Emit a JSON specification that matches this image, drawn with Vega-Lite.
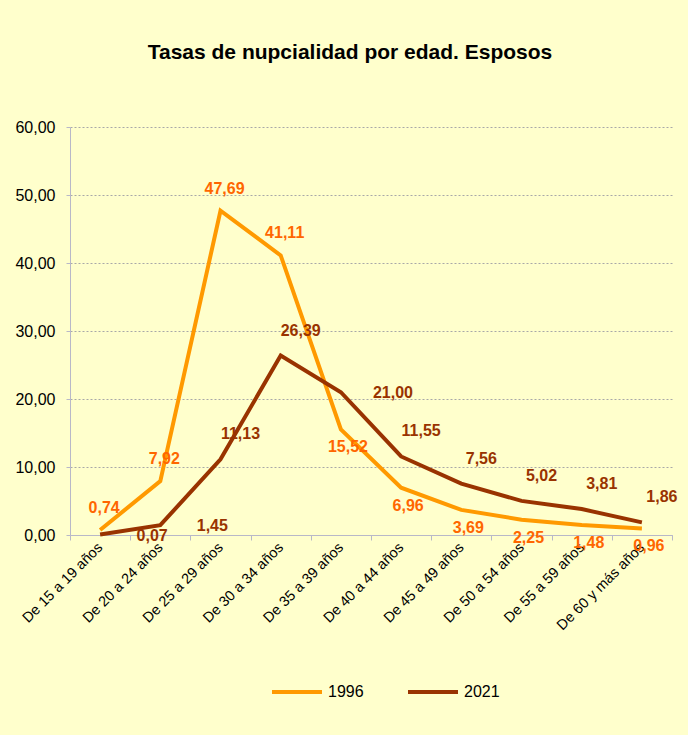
{
  "$schema": "https://vega.github.io/schema/vega-lite/v6.json",
  "autosize": {"type": "none"},
  "width": 602,
  "height": 408,
  "padding": {"left": 70, "top": 127, "right": 16, "bottom": 200},
  "background": "#FFFFCC",
  "title": {
    "text": "Tasas de nupcialidad por edad. Esposos",
    "font": "Liberation Sans",
    "fontSize": 21,
    "fontWeight": "bold",
    "color": "#000000",
    "anchor": "middle",
    "dx": -21,
    "offset": 56
  },
  "data": {
    "values": [
      {"edad": "De 15 a 19 años", "anio": "1996", "tasa": 0.74},
      {"edad": "De 20 a 24 años", "anio": "1996", "tasa": 7.92},
      {"edad": "De 25 a 29 años", "anio": "1996", "tasa": 47.69},
      {"edad": "De 30 a 34 años", "anio": "1996", "tasa": 41.11},
      {"edad": "De 35 a 39 años", "anio": "1996", "tasa": 15.52},
      {"edad": "De 40 a 44 años", "anio": "1996", "tasa": 6.96},
      {"edad": "De 45 a 49 años", "anio": "1996", "tasa": 3.69},
      {"edad": "De 50 a 54 años", "anio": "1996", "tasa": 2.25},
      {"edad": "De 55 a 59 años", "anio": "1996", "tasa": 1.48},
      {"edad": "De 60 y más años", "anio": "1996", "tasa": 0.96},
      {"edad": "De 15 a 19 años", "anio": "2021", "tasa": 0.07},
      {"edad": "De 20 a 24 años", "anio": "2021", "tasa": 1.45},
      {"edad": "De 25 a 29 años", "anio": "2021", "tasa": 11.13},
      {"edad": "De 30 a 34 años", "anio": "2021", "tasa": 26.39},
      {"edad": "De 35 a 39 años", "anio": "2021", "tasa": 21.00},
      {"edad": "De 40 a 44 años", "anio": "2021", "tasa": 11.55},
      {"edad": "De 45 a 49 años", "anio": "2021", "tasa": 7.56},
      {"edad": "De 50 a 54 años", "anio": "2021", "tasa": 5.02},
      {"edad": "De 55 a 59 años", "anio": "2021", "tasa": 3.81},
      {"edad": "De 60 y más años", "anio": "2021", "tasa": 1.86}
    ]
  },
  "encoding": {
    "x": {
      "field": "edad",
      "type": "nominal",
      "sort": null,
      "bandPosition": 0.5,
      "scale": {"type": "band", "paddingInner": 0, "paddingOuter": 0},
      "axis": {
        "title": null,
        "labelAngle": -45,
        "labelAlign": "right",
        "labelBaseline": "middle",
        "labelFont": "Liberation Sans",
        "labelFontSize": 14.5,
        "labelColor": "#000000",
        "labelPadding": 5,
        "tickBand": "extent",
        "tickSize": 5,
        "tickColor": "#B8B8C8",
        "domainColor": "#B8B8C8",
        "grid": false
      }
    },
    "y": {
      "field": "tasa",
      "type": "quantitative",
      "scale": {"domain": [0, 60], "nice": false},
      "axis": {
        "title": null,
        "values": [0, 10, 20, 30, 40, 50, 60],
        "format": ".2f",
        "labelFont": "Liberation Sans",
        "labelFontSize": 16,
        "labelColor": "#000000",
        "labelPadding": 11,
        "tickSize": 4,
        "tickColor": "#B8B8C8",
        "domainColor": "#B8B8C8",
        "grid": true,
        "gridColor": "#A8A8A8",
        "gridDash": [2, 2],
        "gridWidth": 1
      }
    }
  },
  "layer": [
    {
      "mark": {"type": "line", "strokeWidth": 4, "strokeJoin": "miter"},
      "encoding": {
        "color": {
          "field": "anio",
          "type": "nominal",
          "scale": {"domain": ["1996", "2021"], "range": ["#FF9900", "#993300"]},
          "legend": {
            "title": null,
            "orient": "none",
            "direction": "horizontal",
            "legendX": 200,
            "legendY": 538,
            "symbolType": "stroke",
            "symbolSize": 2500,
            "symbolStrokeWidth": 4,
            "labelFont": "Liberation Sans",
            "labelFontSize": 16,
            "labelColor": "#000000",
            "labelOffset": 4,
            "columnPadding": 36
          }
        }
      }
    },
    {
      "transform": [
        {"filter": "datum.anio === '1996'"},
        {"filter": "indexof(['De 15 a 19 años','De 20 a 24 años','De 25 a 29 años','De 30 a 34 años'], datum.edad) >= 0"}
      ],
      "mark": {"type": "text", "font": "Liberation Sans", "fontSize": 16, "fontWeight": "bold", "color": "#FF6600", "dx": 4, "dy": -22},
      "encoding": {"text": {"field": "tasa", "type": "quantitative", "format": ".2f"}}
    },
    {
      "transform": [
        {"filter": "datum.anio === '1996'"},
        {"filter": "indexof(['De 15 a 19 años','De 20 a 24 años','De 25 a 29 años','De 30 a 34 años'], datum.edad) < 0"}
      ],
      "mark": {"type": "text", "font": "Liberation Sans", "fontSize": 16, "fontWeight": "bold", "color": "#FF6600", "dx": 7, "dy": 18},
      "encoding": {"text": {"field": "tasa", "type": "quantitative", "format": ".2f"}}
    },
    {
      "transform": [
        {"filter": "datum.anio === '2021'"},
        {"filter": "indexof(['De 15 a 19 años','De 20 a 24 años','De 35 a 39 años'], datum.edad) >= 0"}
      ],
      "mark": {"type": "text", "font": "Liberation Sans", "fontSize": 16, "fontWeight": "bold", "color": "#993300", "dx": 52, "dy": 1},
      "encoding": {"text": {"field": "tasa", "type": "quantitative", "format": ".2f"}}
    },
    {
      "transform": [
        {"filter": "datum.anio === '2021'"},
        {"filter": "indexof(['De 15 a 19 años','De 20 a 24 años','De 35 a 39 años'], datum.edad) < 0"}
      ],
      "mark": {"type": "text", "font": "Liberation Sans", "fontSize": 16, "fontWeight": "bold", "color": "#993300", "dx": 20, "dy": -25},
      "encoding": {"text": {"field": "tasa", "type": "quantitative", "format": ".2f"}}
    }
  ],
  "config": {
    "locale": {"number": {"decimal": ",", "thousands": ".", "grouping": [3], "currency": ["", " €"]}},
    "view": {"stroke": null}
  }
}
